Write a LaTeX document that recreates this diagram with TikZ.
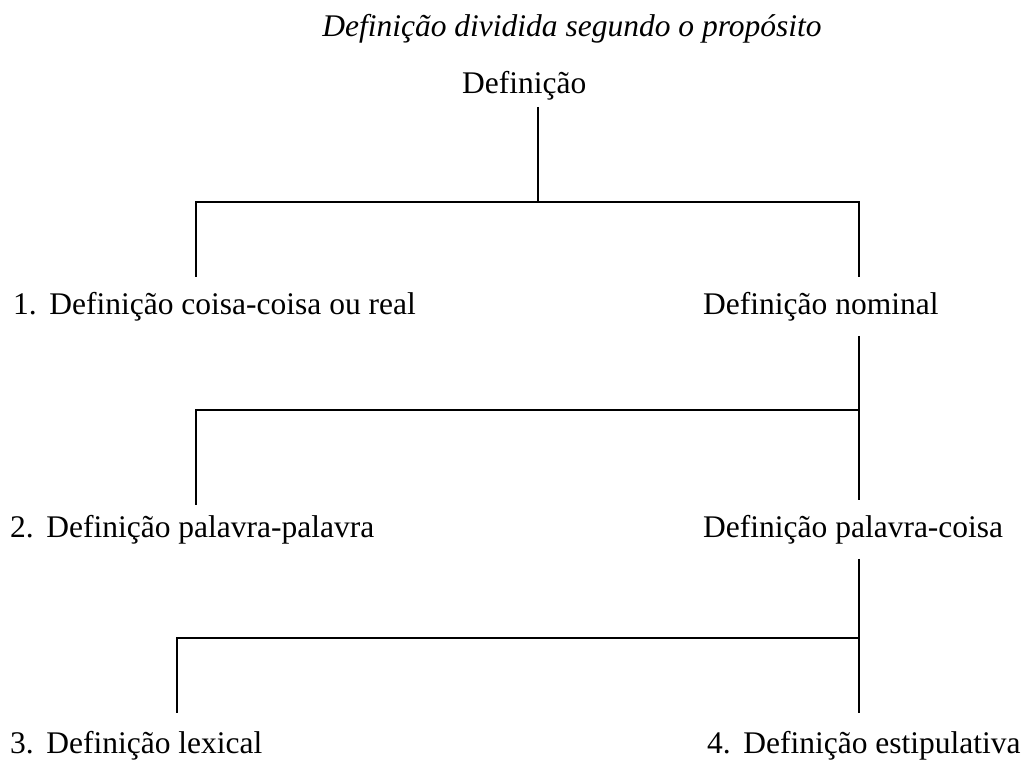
\documentclass[tikz,border=0pt]{standalone}
\usepackage{fontspec}
\setmainfont{Liberation Serif}

\begin{document}
\begin{tikzpicture}[x = 1pt, y = -1pt]
      \tikzset{LabelStyle/.style = {font = \fontsize{31.5}{38}\selectfont,
          anchor      = base west,
          inner xsep  = 0pt,
          inner ysep  = 15pt}}
      \tikzset{BranchStyle/.style = {line width = 1.6pt}}
      \useasboundingbox (0,0) rectangle (1026,762);
      \node[LabelStyle, anchor = base, font = \fontsize{31.5}{38}\selectfont\itshape]
          (title) at (572,37) {Definição dividida segundo o propósito};
      \node[LabelStyle, inner ysep = 6pt] (def) at (462,94) {Definição};
      \node[LabelStyle] (real)    at (13,314)  {1.\hspace{0.4em}Definição coisa-coisa ou real};
      \node[LabelStyle] (nominal) at (703,314) {Definição nominal};
      \node[LabelStyle, inner ysep = 10pt] (pp) at (10,537) {2.\hspace{0.4em}Definição palavra-palavra};
      \node[LabelStyle] (pc)      at (703,537) {Definição palavra-coisa};
      \node[LabelStyle, inner ysep = 18pt] (lex) at (10,753) {3.\hspace{0.4em}Definição lexical};
      \node[LabelStyle, inner ysep = 18pt] (est) at (707,753) {4.\hspace{0.4em}Definição estipulativa};
      % junctions
      \coordinate (A)  at (538,202);
      \coordinate (AL) at (196,202);
      \coordinate (AR) at (859,202);
      \coordinate (BL) at (196,410);
      \coordinate (BR) at (859,410);
      \coordinate (CL) at (177,638);
      \coordinate (CR) at (859,638);
      \draw[BranchStyle] (def.south -| A) -- (A);
      \draw[BranchStyle] (real.north -| AL) -- (AL) -- (AR) -- (nominal.north -| AR);
      \draw[BranchStyle] (nominal.south -| BR) -- (BR) -- (BL) -- (pp.north -| BL);
      \draw[BranchStyle] (BR) -- (pc.north -| BR);
      \draw[BranchStyle] (pc.south -| CR) -- (CR) -- (CL) -- (lex.north -| CL);
      \draw[BranchStyle] (CR) -- (est.north -| CR);
    \end{tikzpicture}
\end{document}
